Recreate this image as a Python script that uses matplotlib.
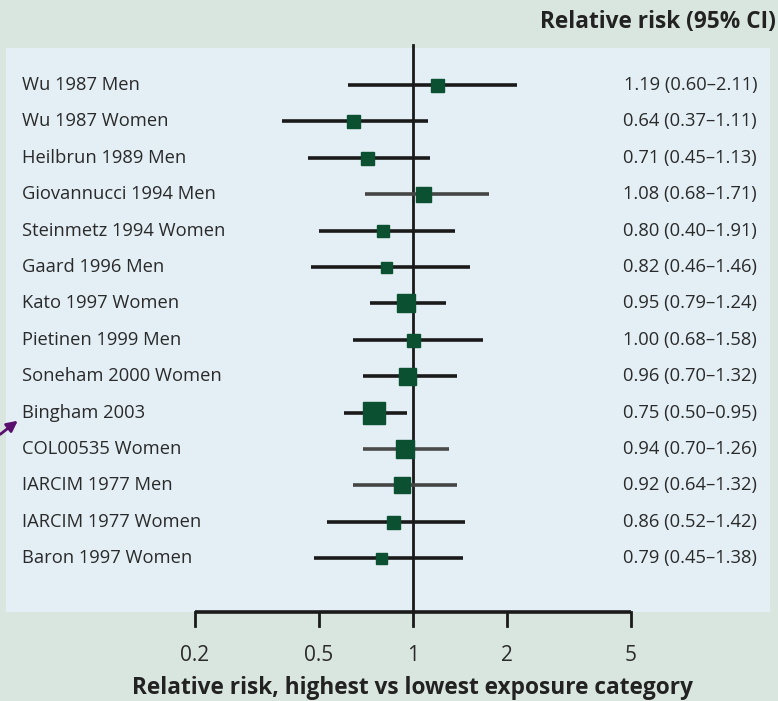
import matplotlib.pyplot as plt
from matplotlib.patches import Rectangle
import numpy as np

plt.rcParams['font.family'] = ['Open Sans', 'DejaVu Sans']

studies = ['Wu 1987 Men', 'Wu 1987 Women', 'Heilbrun 1989 Men', 'Giovannucci 1994 Men',
           'Steinmetz 1994 Women', 'Gaard 1996 Men', 'Kato 1997 Women', 'Pietinen 1999 Men',
           'Soneham 2000 Women', 'Bingham 2003', 'COL00535 Women', 'IARCIM 1977 Men',
           'IARCIM 1977 Women', 'Baron 1997 Women']
rr = [1.19, 0.64, 0.71, 1.08, 0.80, 0.82, 0.95, 1.00, 0.96, 0.75, 0.94, 0.92, 0.86, 0.79]
lo = [0.60, 0.37, 0.45, 0.68, 0.40, 0.46, 0.79, 0.68, 0.70, 0.50, 0.70, 0.64, 0.52, 0.45]
hi = [2.11, 1.11, 1.13, 1.71, 1.91, 1.46, 1.24, 1.58, 1.32, 0.95, 1.26, 1.32, 1.42, 1.38]
# drawn CI ends (as plotted in the figure)
lo_drawn = [0.62, 0.38, 0.46, 0.70, 0.50, 0.47, 0.73, 0.64, 0.69, 0.60, 0.69, 0.64, 0.53, 0.48]
hi_drawn = [2.15, 1.12, 1.13, 1.75, 1.36, 1.52, 1.28, 1.68, 1.38, 0.96, 1.30, 1.38, 1.47, 1.45]
weight_px = [13, 13, 13, 15, 12, 11, 18, 13, 17, 23, 18, 16, 13, 11]
line_col = ['#1a1a1a', '#1a1a1a', '#1a1a1a', '#454545', '#1a1a1a', '#1a1a1a', '#1a1a1a',
            '#1a1a1a', '#1a1a1a', '#1a1a1a', '#4a4a4a', '#454545', '#1a1a1a', '#1a1a1a']
ticks = [0.2, 0.5, 1, 2, 5]

W, H = 778, 701
fig = plt.figure(figsize=(W / 100, H / 100), dpi=100)
fig.patch.set_facecolor('#d9e5df')

ax = fig.add_axes([0, 0, 1, 1])
ax.set_facecolor('none')
ax.set_xscale('log')
x0, ppd = 413, 312
ax.set_xlim(10 ** (-x0 / ppd), 10 ** ((W - x0) / ppd))
y0, dy = 85, 36.4
ax.set_ylim((H - y0) / dy, -y0 / dy)
ax.axis('off')
ax.add_patch(Rectangle((6 / W, 1 - 612 / H), 764 / W, 564 / H, transform=fig.transFigure,
                       facecolor='#e3eff5', edgecolor='none', zorder=0))

def py(p):
    return (p - y0) / dy

# reference line at 1
ax.plot([1, 1], [py(45), py(612)], color='#1a1a1a', lw=2, zorder=2)

ypos = np.arange(len(studies))
for i in range(len(studies)):
    ax.plot([lo_drawn[i], hi_drawn[i]], [ypos[i], ypos[i]], color=line_col[i], lw=2.6,
            solid_capstyle='butt', zorder=3)
    ax.plot(rr[i], ypos[i], marker='s', ms=weight_px[i] * 0.72, color='#0b5031',
            mec='#0b5031', zorder=4)
    ax.text(22 / W, ypos[i], studies[i], transform=ax.get_yaxis_transform(),
            ha='left', va='center', fontsize=13.2, color='#2a2a2a')
    ax.text(757 / W, ypos[i], f'{rr[i]:.2f} ({lo[i]:.2f}\u2013{hi[i]:.2f})',
            transform=ax.get_yaxis_transform(), ha='right', va='center',
            fontsize=13.2, color='#2a2a2a')

# x axis
ax.plot([0.2, 5], [py(612), py(612)], color='#1a1a1a', lw=2.6, solid_capstyle='butt', zorder=2)
for t in ticks:
    ax.plot([t, t], [py(612), py(626)], color='#1a1a1a', lw=2, zorder=2)
    ax.text(t, py(655), f'{t:g}', ha='center', va='center', fontsize=15,
            color='#2a2a2a')
ax.text(412 / W, py(688), 'Relative risk, highest vs lowest exposure category',
        transform=ax.get_yaxis_transform(), ha='center', va='center',
        fontsize=16.3, fontweight='bold', color='#222222')
ax.text(776 / W, py(22), 'Relative risk (95% CI)', transform=ax.get_yaxis_transform(),
        ha='right', va='center', fontsize=16.3, fontweight='bold', color='#222222')

# purple arrow pointing at Bingham 2003
ax.annotate('', xy=(20 / W, py(419)), xytext=(-2 / W, py(436)),
            xycoords=ax.get_yaxis_transform(), textcoords=ax.get_yaxis_transform(),
            arrowprops=dict(arrowstyle='-|>', color='#5a0f6e', lw=2, mutation_scale=16))

fig.savefig('out.png', dpi=100, facecolor=fig.get_facecolor())
